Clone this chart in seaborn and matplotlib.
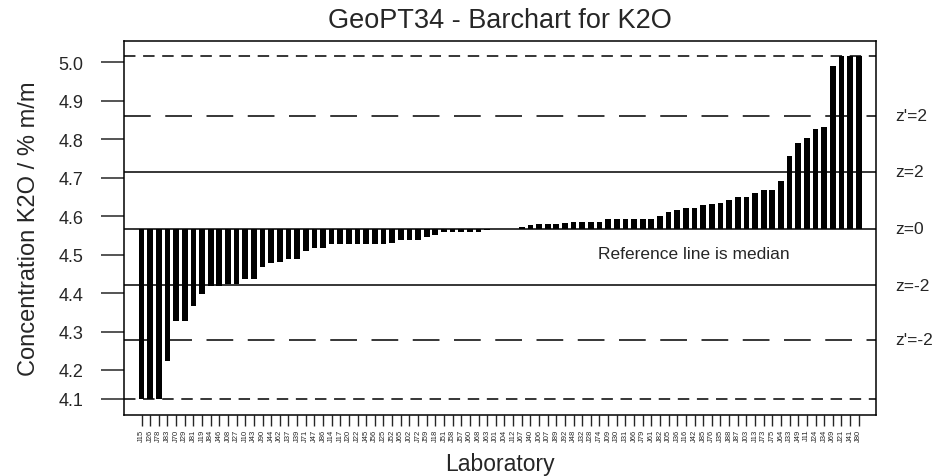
import numpy as np
import pandas as pd
import matplotlib
matplotlib.use("Agg")
import matplotlib.pyplot as plt
import seaborn as sns

# ---------------- data ----------------
labs = ["J15", "J26", "J78", "J83", "J70", "J29", "J81", "J19", "J84", "J46", "J08", "J27",
        "J10", "J43", "J90", "J44", "J62", "J37", "J39", "J71", "J47", "J86", "J14", "J17",
        "J20", "J22", "J45", "J56", "J25", "J52", "J65", "J02", "J72", "J59", "J18", "J51",
        "J58", "J57", "J60", "J68", "J63", "J01", "J04", "J12", "J67", "J40", "J06", "J07",
        "J89", "J92", "J48", "J32", "J28", "J74", "J09", "J30", "J31", "J66", "J79", "J61",
        "J82", "J05", "J36", "J16", "J42", "J85", "J76", "J35", "J88", "J87", "J03", "J13",
        "J73", "J75", "J64", "J33", "J49", "J11", "J24", "J34", "J69", "J21", "J41", "J80"]

values = [4.125, 4.125, 4.125, 4.224, 4.328, 4.328, 4.367, 4.398, 4.418, 4.418, 4.424, 4.424,
          4.438, 4.438, 4.469, 4.478, 4.480, 4.489, 4.489, 4.509, 4.518, 4.518, 4.528, 4.528,
          4.528, 4.528, 4.528, 4.528, 4.528, 4.531, 4.538, 4.538, 4.538, 4.547, 4.551, 4.558,
          4.558, 4.558, 4.558, 4.558, 4.565, 4.568, 4.568, 4.568, 4.572, 4.577, 4.581, 4.581,
          4.581, 4.583, 4.584, 4.584, 4.586, 4.586, 4.592, 4.592, 4.592, 4.592, 4.592, 4.593,
          4.601, 4.612, 4.615, 4.621, 4.621, 4.630, 4.632, 4.635, 4.642, 4.650, 4.651, 4.661,
          4.667, 4.667, 4.691, 4.758, 4.791, 4.803, 4.827, 4.833, 4.991, 5.017, 5.017, 5.017]

median_ref = 4.568
z_lines = [4.716, 4.421]          # z = 2, z = -2
zp_lines = [4.861, 4.278]         # z' = 2, z' = -2
limit_lines = [5.017, 4.125]      # plot limits (clipping lines)
right_labels = ["z'=2", "z=2", "z=0", "z=-2", "z'=-2"]
right_label_values = [4.861, 4.716, 4.568, 4.421, 4.278]

ytick_pos = [4.125, 4.2, 4.3, 4.4, 4.5, 4.6, 4.7, 4.8, 4.9, 5.0]
ytick_labels = ["4.1", "4.2", "4.3", "4.4", "4.5", "4.6", "4.7", "4.8", "4.9", "5.0"]

title = "GeoPT34 - Barchart for K2O"
xlabel = "Laboratory"
ylabel = "Concentration K2O / % m/m"
note = "Reference line is median"

# ---------------- plot ----------------
sns.set_style("white")
plt.rcParams["font.family"] = ["Liberation Sans", "DejaVu Sans"]

df = pd.DataFrame({"lab": labs, "dev": np.array(values) - median_ref})

fig = plt.figure(figsize=(9.4, 4.77), dpi=100)
ax = fig.add_axes([0.1322, 0.128, 0.7997, 0.784])

sns.barplot(data=df, x="lab", y="dev", order=labs, color="black", saturation=1,
            width=0.66, bottom=median_ref, ax=ax, linewidth=0)

ax.axhline(median_ref, color="black", lw=1.1)
for v in z_lines:
    ax.axhline(v, color="black", lw=1.1)
for v in zp_lines:
    ax.axhline(v, color="black", lw=1.1, linestyle=(0, (17.5, 9.5)))
for v in limit_lines:
    ax.axhline(v, color="black", lw=1.1, linestyle=(0, (7.5, 5.0)))

ax.set_xlim(-2.0, 85.0)
ax.set_ylim(4.083, 5.056)

ax.set_yticks(ytick_pos)
ax.set_yticklabels(ytick_labels, fontsize=13)
ax.tick_params(axis="y", direction="out", length=16.5, width=1.1, pad=13, left=True)
ax.set_xticks(range(len(labs)))
ax.set_xticklabels(labs, rotation=90, fontsize=5.5)
ax.tick_params(axis="x", direction="out", length=8, width=1.0, pad=2, bottom=True)

for s in ax.spines.values():
    s.set_visible(True)
    s.set_color("black")
    s.set_linewidth(1.1)

ax.set_xlabel(xlabel, fontsize=16.5, labelpad=8)
ax.set_ylabel(ylabel, fontsize=17, labelpad=13)
ax.set_title(title, fontsize=19.5, pad=10)

for lab, v in zip(right_labels, right_label_values):
    ax.text(1.026, v, lab, transform=ax.get_yaxis_transform(), fontsize=12.5,
            ha="left", va="center", clip_on=False)

ax.text(63.9, 4.502, note, fontsize=12.5, ha="center", va="center")

fig.savefig("out.png", dpi=100)
